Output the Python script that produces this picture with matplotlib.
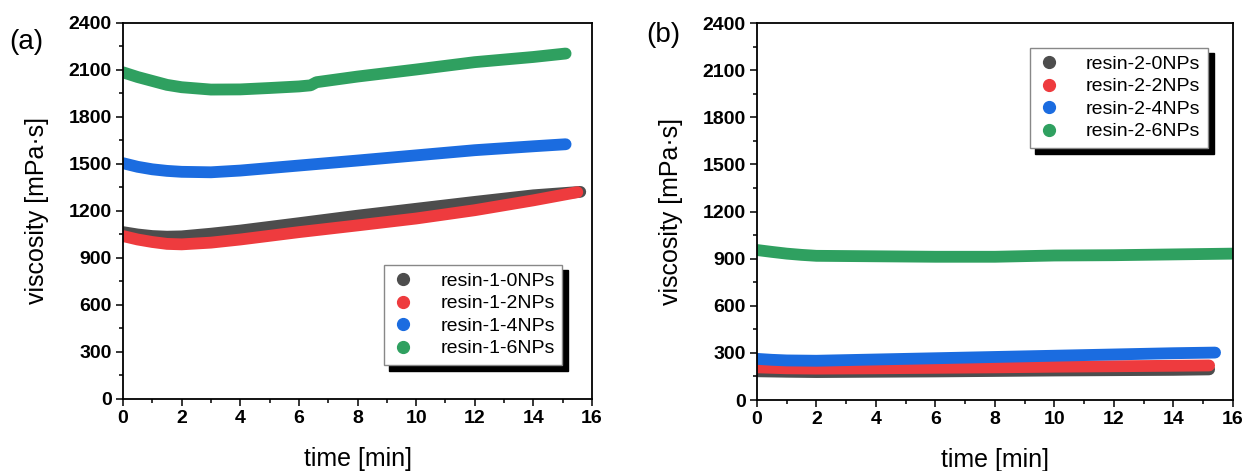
import numpy as np
import matplotlib.pyplot as plt
from matplotlib.lines import Line2D
from matplotlib.ticker import MultipleLocator

plt.rcParams["font.family"] = ["Liberation Sans", "DejaVu Sans"]

# -------- data (time [min], viscosity [mPa·s]) --------
T_A0 = [0, 0.5, 1, 1.5, 2, 3, 4, 6, 8, 10, 12, 14, 15.6]
V_A0 = [1065, 1050, 1040, 1036, 1038, 1055, 1075, 1122, 1170, 1214, 1258, 1300, 1322]
T_A2 = [0, 0.5, 1, 1.5, 2, 3, 4, 6, 8, 10, 12, 14, 15.5]
V_A2 = [1040, 1018, 1002, 990, 987, 998, 1018, 1065, 1108, 1152, 1205, 1268, 1320]
T_A4 = [0, 0.5, 1, 1.5, 2, 3, 4, 6, 8, 10, 12, 14, 15.1]
V_A4 = [1505, 1482, 1466, 1456, 1450, 1447, 1458, 1490, 1522, 1555, 1588, 1613, 1626]
T_A6 = [0, 0.5, 1, 1.5, 2, 3, 4, 5, 6, 6.4, 6.6, 8, 10, 12, 14, 15.1]
V_A6 = [2085, 2055, 2030, 2005, 1990, 1975, 1976, 1985, 1995, 2002, 2022, 2058, 2103, 2150, 2183, 2205]

T_B0 = [0, 1, 2, 4, 6, 8, 10, 12, 14, 15.2]
V_B0 = [183, 180, 178, 180, 182, 185, 188, 190, 192, 195]
T_B2 = [0, 1, 2, 4, 6, 8, 10, 12, 14, 15.2]
V_B2 = [208, 202, 200, 202, 205, 208, 212, 215, 218, 220]
T_B4 = [0, 0.5, 1, 2, 4, 6, 8, 10, 12, 14, 15.4]
V_B4 = [262, 256, 252, 250, 258, 266, 274, 282, 290, 298, 302]
T_B6 = [0, 0.5, 1, 1.5, 2, 4, 6, 8, 10, 12, 14, 16]
V_B6 = [955, 943, 932, 924, 918, 915, 912, 912, 920, 922, 927, 932]

LABELS_A = ["resin-1-0NPs", "resin-1-2NPs", "resin-1-4NPs", "resin-1-6NPs"]
LABELS_B = ["resin-2-0NPs", "resin-2-2NPs", "resin-2-4NPs", "resin-2-6NPs"]
COLORS = ["#4d4d4d", "#ee3b3e", "#1b6ce0", "#2fa060"]

SERIES_A = [(T_A0, V_A0), (T_A2, V_A2), (T_A4, V_A4), (T_A6, V_A6)]
SERIES_B = [(T_B0, V_B0), (T_B2, V_B2), (T_B4, V_B4), (T_B6, V_B6)]

fig = plt.figure(figsize=(12.45, 4.71), dpi=100)
ax_a = fig.add_axes([0.0988, 0.1529, 0.3767, 0.7983])
ax_b = fig.add_axes([0.6080, 0.1507, 0.3823, 0.8004])


def draw_panel(ax, series, labels, legend_loc, anchor):
    # dense measured points render as a thick round-capped band
    for (t, v), c in zip(series, COLORS):
        ax.plot(t, v, "-", color=c, lw=8.5, solid_capstyle="round",
                solid_joinstyle="round")

    ax.set_xlim(0, 16)
    ax.set_ylim(0, 2400)
    ax.xaxis.set_major_locator(MultipleLocator(2))
    ax.xaxis.set_minor_locator(MultipleLocator(1))
    ax.yaxis.set_major_locator(MultipleLocator(300))
    ax.yaxis.set_minor_locator(MultipleLocator(150))
    ax.tick_params(which="both", direction="out", top=False, right=False, width=1.1)
    ax.tick_params(which="major", length=5, labelsize=14, pad=3)
    ax.tick_params(which="minor", length=3)
    for lab in ax.get_xticklabels() + ax.get_yticklabels():
        lab.set_fontweight("bold")
    for sp in ax.spines.values():
        sp.set_linewidth(1.3)

    ax.set_xlabel("time [min]", fontsize=18, labelpad=14)
    ax.set_ylabel("viscosity [mPa·s]", fontsize=18, labelpad=14)

    handles = [Line2D([], [], ls="none", marker="o", ms=8.5, color=c) for c in COLORS]
    leg = ax.legend(handles, labels, loc=legend_loc, bbox_to_anchor=anchor,
                    fontsize=14, frameon=True, fancybox=False,
                    edgecolor="#888888", framealpha=1,
                    handlelength=1.2, handletextpad=1.3, labelspacing=0.25,
                    borderpad=0.4, borderaxespad=0.0,
                    shadow={"color": "black", "alpha": 1, "ox": 4, "oy": -4})
    leg.get_frame().set_linewidth(1.0)
    return leg


draw_panel(ax_a, SERIES_A, LABELS_A, "lower right", (0.937, 0.09))
draw_panel(ax_b, SERIES_B, LABELS_B, "upper right", (0.948, 0.935))

fig.text(0.0215, 0.91, "(a)", fontsize=20, ha="center", va="center")
fig.text(0.533, 0.925, "(b)", fontsize=20, ha="center", va="center")

fig.savefig("out.png", dpi=100)
